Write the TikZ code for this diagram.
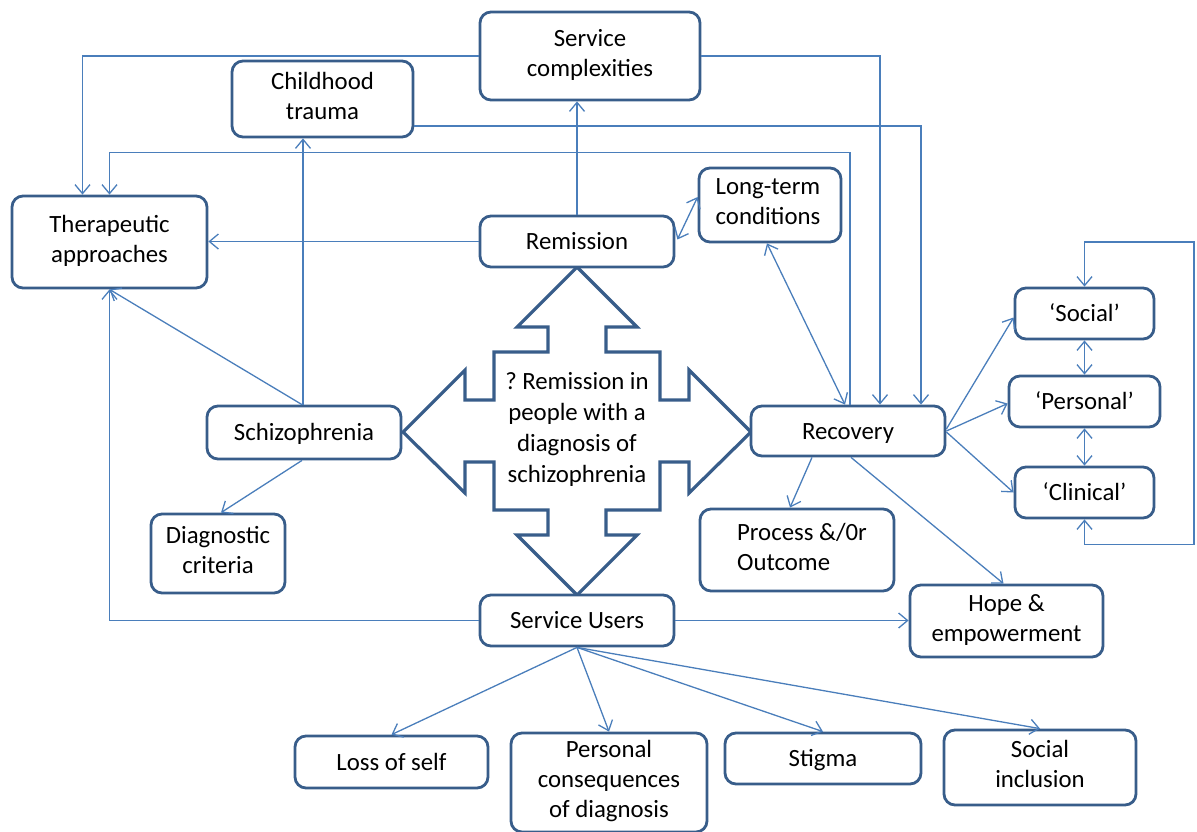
\documentclass[tikz,border=0pt]{standalone}
\usepackage{fontspec}
\setmainfont{Carlito}
\usetikzlibrary{arrows.meta}
\definecolor{boxc}{HTML}{385D8A}
\definecolor{linec}{HTML}{4A7EBB}
\newcommand{\mystrut}{\rule[-6.6pt]{0pt}{30pt}}
\frenchspacing
\begin{document}
\begin{tikzpicture}[x=1pt,y=-1pt,
  box/.style={draw=boxc, line width=2.8pt, rounded corners=11pt, fill=white,
    align=center, inner sep=0pt, font=\fontsize{24.8}{30}\selectfont,
    execute at begin node=\mystrut},
  conn/.style={draw=linec, line width=1.3pt},
  tip/.style={-{Straight Barb[length=9pt,width=15pt]}},
  tips/.style={{Straight Barb[length=9pt,width=15pt]}-{Straight Barb[length=9pt,width=15pt]}},
  bigarrow/.style={draw=boxc, line width=3.2pt, fill=white, line join=miter}
]
\useasboundingbox (0,0) rectangle (1197,831);
\clip (0,0) rectangle (1197,831);

% big four-way arrow
\draw[bigarrow] (577,267) -- (517,327) -- (548,327) -- (548,352) -- (494,352) -- (494,400)
  -- (465,400) -- (465,370) -- (403,432) -- (465,493) -- (465,462) -- (494,462) -- (494,510)
  -- (548,510) -- (548,535) -- (517,535) -- (577,595) -- (637,535) -- (606,535) -- (606,510)
  -- (660,510) -- (660,462) -- (689,462) -- (689,493) -- (751,432) -- (689,370) -- (689,400)
  -- (660,400) -- (660,352) -- (606,352) -- (606,327) -- (637,327) -- cycle;
\node[align=center, font=\fontsize{24.8}{31}\selectfont, inner sep=0pt,
  execute at begin node=\mystrut] (q) at (577,431)
  {? Remission in\\people with a\\diagnosis of\\schizophrenia\mystrut};

% boxes
\node[box, minimum width=220pt, minimum height=88pt] (sc) at (590,56) {Service\\complexities\mystrut};
\node[box, minimum width=181pt, minimum height=76pt] (ct) at (322.5,99) {Childhood\\trauma\mystrut};
\node[box, minimum width=195pt, minimum height=92pt] (ta) at (109.5,242) {Therapeutic\\approaches\mystrut};
\node[box, minimum width=194pt, minimum height=51pt] (rem) at (577,241.5) {Remission};
\node[box, minimum width=142pt, minimum height=74pt, align=left] (lt) at (770,205) {\hspace*{-4pt}Long-term\\\hspace*{-4pt}conditions\mystrut};
\node[box, minimum width=194pt, minimum height=53pt] (sch) at (304,432.5) {Schizophrenia};
\node[box, minimum width=134pt, minimum height=79pt] (dc) at (218,553.5) {Diagnostic\\criteria\mystrut};
\node[box, minimum width=194pt, minimum height=50pt] (rec) at (848,431) {Recovery};
\node[box, minimum width=139pt, minimum height=51pt] (soc) at (1084.5,313.5) {‘Social’};
\node[box, minimum width=151pt, minimum height=51pt] (pers) at (1084.5,401.5) {‘Personal’};
\node[box, minimum width=139pt, minimum height=51pt] (clin) at (1084.5,492.5) {‘Clinical’};
\node[box, minimum width=194pt, minimum height=82pt, align=left] (proc) at (797,550) {\hspace*{10pt}Process \&/0r\\\hspace*{10pt}Outcome\mystrut};
\node[box, minimum width=193pt, minimum height=72pt] (hope) at (1006.5,621) {Hope \&\\empowerment\mystrut};
\node[box, minimum width=194pt, minimum height=51pt] (su) at (577,620.5) {Service Users};
\node[box, minimum width=193pt, minimum height=52pt] (los) at (391.5,762) {Loss of self};
\node[box, minimum width=196pt, minimum height=99pt] (pc) at (609,782.5) {Personal\\consequences\\of diagnosis\mystrut};
\node[box, minimum width=196pt, minimum height=51pt] (stig) at (823,758.5) {Stigma};
\node[box, minimum width=192pt, minimum height=75pt] (si) at (1040,767.5) {Social\\inclusion\mystrut};

% connectors
\draw[conn,tip] (sc.west) -| ([xshift=-27pt]ta.north);
\draw[conn,tip] (sc.east) -| ([xshift=32pt]rec.north);
\draw[conn,tip] ([yshift=-27pt]ct.east) -| ([xshift=73pt]rec.north);
\draw[conn,tip] ([xshift=2pt]rec.north) |- ([yshift=42pt]ta.north) -- (ta.north);
\draw[conn,tip] (rem.north) -- (rem.north |- sc.south);
\draw[conn,tip] (rem.west) -- (rem.west -| ta.east);
\draw[conn,tips] ([xshift=2pt,yshift=2pt]rem.east) -- ([yshift=8pt]lt.west);
\draw[conn,tips] ([xshift=-3pt]lt.south) -- ([xshift=-3pt]rec.north);
\draw[conn,tip] ([xshift=-1pt]sch.north) -- ([xshift=-1pt]sch.north |- ct.south);
\draw[conn,tip] ([xshift=-2pt]sch.north) -- (ta.south);
\draw[conn,tip] ([xshift=-2pt]sch.south) -- ([xshift=3pt]dc.north);
\draw[conn,tip] (su.west) -| (ta.south);
\draw[conn,tip] (su.east) -- (su.east -| hope.west);
\draw[conn,tip] ([xshift=3pt]rec.south) -- ([xshift=-3pt]hope.north);
\draw[conn,tip] ([xshift=-36pt]rec.south) -- ([xshift=-7pt]proc.north);
\draw[conn,tip] ([yshift=2pt]rec.east) -- ([yshift=-4pt]soc.west);
\draw[conn,tip] (rec.east) -- ([yshift=-2pt]pers.west);
\draw[conn,tip] ([yshift=-1pt]rec.east) -- (clin.west);
\draw[conn,tips] (soc.south) -- (pers.north);
\draw[conn,tips] (pers.south) -- (clin.north);
\coordinate (loopR) at (1194,242);
\draw[conn,tips] (clin.south) -- ++(0,25) -| (loopR) -| (soc.north);
\draw[conn,tip] (su.south) -- (los.north);
\draw[conn,tip] (su.south) -- (pc.north);
\draw[conn,tip] (su.south) -- (stig.north);
\draw[conn,tip] (su.south) -- (si.north);
\end{tikzpicture}
\end{document}
